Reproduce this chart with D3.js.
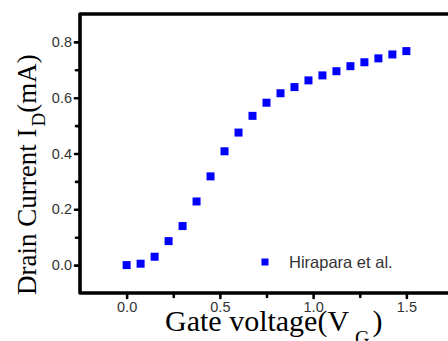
<!DOCTYPE html>
<html>
<head>
<meta charset="utf-8">
<script src="https://cdn.jsdelivr.net/npm/d3@7"></script>
<style>
  body { margin: 0; background: #fff; }
  svg { display: block; }
</style>
</head>
<body>
<svg id="chart" width="448" height="341"></svg>
<script>
// gate voltage (V) and drain current (mA)
var gateV = [0, 0.075, 0.15, 0.225, 0.3, 0.375, 0.45, 0.525, 0.6, 0.675, 0.75,
             0.825, 0.9, 0.975, 1.05, 1.125, 1.2, 1.275, 1.35, 1.425, 1.5];
var drainI = [0.0, 0.005, 0.03, 0.086, 0.14, 0.228, 0.318, 0.408, 0.475, 0.535, 0.582,
              0.616, 0.638, 0.662, 0.68, 0.695, 0.713, 0.727, 0.741, 0.755, 0.767];
var xMajor = [0, 0.5, 1.0, 1.5];
var xMinor = [0.25, 0.75, 1.25];
var yMajor = [0, 0.2, 0.4, 0.6, 0.8];
var yMinor = [0.1, 0.3, 0.5, 0.7];
var seriesName = "Hirapara et al.";

var svg = d3.select("#chart");
var plotL = 80, plotT = 14, plotB = 293, plotR = 453;

var x = d3.scaleLinear().domain([-0.25, 1.75]).range([plotL, plotR]);
var y = d3.scaleLinear().domain([-0.1, 0.9]).range([plotB, plotT]);

var fmt = d3.format(".1f");

// minor ticks first
svg.append("g").attr("transform", "translate(0," + plotB + ")")
   .call(d3.axisBottom(x).tickValues(xMinor).tickSize(4).tickFormat(""))
   .call(function(g){ g.select(".domain").remove(); });
svg.append("g").attr("transform", "translate(" + plotL + ",0)")
   .call(d3.axisLeft(y).tickValues(yMinor).tickSize(4).tickFormat(""))
   .call(function(g){ g.select(".domain").remove(); });

var xAxis = svg.append("g").attr("transform", "translate(0," + plotB + ")")
   .call(d3.axisBottom(x).tickValues(xMajor).tickSize(5).tickPadding(4).tickFormat(fmt));
xAxis.select(".domain").remove();

var yAxis = svg.append("g").attr("transform", "translate(" + plotL + ",0)")
   .call(d3.axisLeft(y).tickValues(yMajor).tickSize(5).tickPadding(3).tickFormat(fmt));
yAxis.select(".domain").remove();

svg.selectAll(".tick line").attr("stroke", "#000").attr("stroke-width", 2.6)
   .attr("stroke-linecap", "round");
svg.selectAll(".tick text").attr("fill", "#333")
   .style("font-family", "'Liberation Sans', Arial, sans-serif").style("font-size", "14.5px");

// frame: left, bottom, top (right side runs off the page)
svg.append("path")
   .attr("d", "M" + plotR + "," + plotT + "H" + plotL + "V" + plotB + "H" + plotR)
   .attr("fill", "none").attr("stroke", "#000").attr("stroke-width", 3.6)
   .attr("stroke-linecap", "round").attr("stroke-linejoin", "round");

// points
var ms = 8;
svg.append("g").selectAll("rect").data(gateV).enter().append("rect")
   .attr("x", function(d){ return x(d) - ms/2; })
   .attr("y", function(d, i){ return y(drainI[i]) - ms/2; })
   .attr("width", ms).attr("height", ms)
   .attr("fill", "#0000ff");

// legend
svg.append("rect").attr("x", 261.5).attr("y", 258.5).attr("width", 7).attr("height", 7)
   .attr("fill", "#0000ff");
svg.append("text").attr("x", 289).attr("y", 268).text(seriesName)
   .attr("fill", "#333")
   .style("font-family", "'Liberation Sans', Arial, sans-serif").style("font-size", "16.5px");

// axis titles
var serif = "'Liberation Serif', 'Times New Roman', serif";
var xt = svg.append("text").attr("x", 165).attr("y", 331)
   .style("font-family", serif).style("font-size", "30px").attr("fill", "#000");
xt.append("tspan").text("Gate voltage(V");
xt.append("tspan").attr("dx", 6).attr("dy", 14).style("font-size", "20px").text("G");
xt.append("tspan").attr("dx", 3).attr("dy", -14).text(")");

var yt = svg.append("text")
   .attr("transform", "translate(36,295) rotate(-90)")
   .style("font-family", serif).style("font-size", "27px").attr("fill", "#000");
yt.append("tspan").text("Drain Current I");
yt.append("tspan").attr("dx", 2).attr("dy", 9).style("font-size", "19px").text("D");
yt.append("tspan").attr("dy", -9).text("(mA)");
</script>
</body>
</html>
